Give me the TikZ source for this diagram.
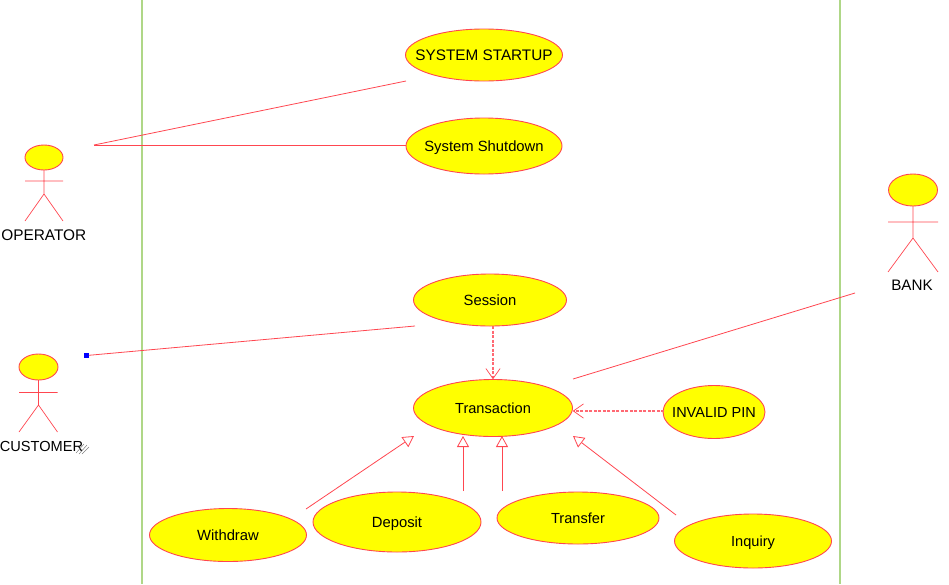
\documentclass[tikz,border=0pt]{standalone}
\usepackage{fontspec}
\setmainfont{Liberation Sans}
\usetikzlibrary{shapes.geometric,arrows.meta}
\definecolor{umlred}{RGB}{255,70,80}
\definecolor{umlpink}{RGB}{255,105,115}
\definecolor{umlgreen}{RGB}{175,215,135}
\definecolor{umlyellow}{RGB}{255,255,0}
\newcommand{\uctext}[2][14.8]{\makebox[0pt]{\smash{\raisebox{-.54em}{\fontsize{#1}{16}\selectfont #2}}}}
\tikzset{
  x=1pt,y=-1pt,
  usecase/.style={ellipse,draw=umlred,fill=umlyellow,line width=0.9pt,inner sep=0pt,outer sep=0pt,text=black},
  actorhead/.style={ellipse,draw=umlred,fill=umlyellow,line width=0.9pt,inner sep=0pt,outer sep=0pt},
  actorlabel/.style={inner sep=0pt,text=black},
  stick/.style={draw=umlred,line width=0.7pt},
  assoc/.style={draw=umlred,line width=0.8pt},
  depend/.style={draw=umlpink,line width=1.1pt,dash pattern=on 3pt off 1.5pt,-{Straight Barb[length=10pt,width=14pt,line width=0.7pt,round=false,color=umlred]}},
  general/.style={draw=umlred,line width=0.8pt,-{Triangle[open,length=11pt,width=12pt,line width=0.8pt]}},
  boundary/.style={draw=umlgreen,line width=1.2pt}
}
\begin{document}
\begin{tikzpicture}
\useasboundingbox (0,0) rectangle (949,584);
% system boundary
\coordinate (bl1) at (142,0); \coordinate (bl2) at (142,584);
\coordinate (br1) at (840,0); \coordinate (br2) at (840,584);
\draw[boundary] (bl1) -- (bl2);
\draw[boundary] (br1) -- (br2);
% use cases
\node[usecase,minimum width=157pt,minimum height=52pt] (startup) at (484,55) {\uctext[15.3]{SYSTEM STARTUP}};
\node[usecase,minimum width=156pt,minimum height=56pt] (shutdown) at (484,146) {\uctext{System Shutdown}};
\node[usecase,minimum width=153pt,minimum height=52pt] (session) at (490,300) {\uctext{Session}};
\node[usecase,minimum width=159pt,minimum height=57pt] (transaction) at (493,408) {\uctext[14.6]{Transaction}};
\node[usecase,minimum width=102pt,minimum height=53pt] (invalid) at (714,412) {\uctext[14.5]{INVALID PIN}};
\node[usecase,minimum width=157pt,minimum height=53pt] (withdraw) at (228,535) {\uctext{Withdraw}};
\node[usecase,minimum width=168pt,minimum height=60pt] (deposit) at (397,522) {\uctext{Deposit}};
\node[usecase,minimum width=162pt,minimum height=52pt] (transfer) at (578,518) {\uctext[14.6]{Transfer}};
\node[usecase,minimum width=157pt,minimum height=54pt] (inquiry) at (753,541) {\uctext[14.6]{Inquiry}};
% operator
\node[actorhead,minimum width=38pt,minimum height=25pt] (ophead) at (44,157.5) {};
\coordinate (ophip) at (44,194);
\coordinate (opla) at (25,181); \coordinate (opra) at (63,181);
\coordinate (opll) at (25,221); \coordinate (oprl) at (63,221);
\draw[stick] (ophead.south) -- (ophip) -- (opll) (ophip) -- (oprl) (opla) -- (opra);
\node[actorlabel] (oplabel) at (43.8,235) {\uctext[15.4]{OPERATOR}};
% customer
\node[actorhead,minimum width=39pt,minimum height=26pt] (cuhead) at (38.5,367) {};
\coordinate (cuhip) at (38.5,405);
\coordinate (cula) at (19,392.5); \coordinate (cura) at (57.5,392.5);
\coordinate (cull) at (19,432); \coordinate (curl) at (57.5,432);
\draw[stick] (cuhead.south) -- (cuhip) -- (cull) (cuhip) -- (curl) (cula) -- (cura);
\node[actorlabel] (culabel) at (41.5,446) {\uctext[14.6]{CUSTOMER}};
% resize hatch beside the customer label
\coordinate (ha1) at (76,453); \coordinate (ha2) at (84,444);
\coordinate (hb1) at (79,454); \coordinate (hb2) at (87,445);
\coordinate (hc1) at (82,454); \coordinate (hc2) at (89,447);
\draw[gray,line width=0.5pt] (ha1) -- (ha2) (hb1) -- (hb2) (hc1) -- (hc2);
% bank
\node[actorhead,minimum width=49pt,minimum height=32pt] (bkhead) at (913,190) {};
\coordinate (bkhip) at (913,238);
\coordinate (bkla) at (888,222); \coordinate (bkra) at (938,222);
\coordinate (bkll) at (888,272); \coordinate (bkrl) at (938,272);
\draw[stick] (bkhead.south) -- (bkhip) -- (bkll) (bkhip) -- (bkrl) (bkla) -- (bkra);
\node[actorlabel] (bklabel) at (912,285) {\uctext[15.2]{BANK}};
% free connector ends
\coordinate (opport) at (94,145);
\coordinate (startupin) at (406,81);
\coordinate (shutin) at (406,145);
\node[fill=blue,inner sep=0pt,minimum size=4.2pt] (handle) at (86.5,355.5) {};
\coordinate (sessin) at (415,326);
\coordinate (trbank) at (573,379);
\coordinate (bankport) at (855,293);
\coordinate (sessout) at (493,326);
\coordinate (trtop) at (493,379);
\coordinate (invout) at (664,411);
\coordinate (trright) at (573,411);
\coordinate (wdout) at (306,509); \coordinate (wdin) at (414,436);
\coordinate (dpout) at (463,491); \coordinate (dpin) at (463,436);
\coordinate (tfout) at (502,491); \coordinate (tfin) at (502,436);
\coordinate (iqout) at (676,515); \coordinate (iqin) at (573,436);
% connectors
\draw[assoc] (opport) -- (startupin);
\draw[assoc] (opport) -- (shutin);
\draw[assoc] (handle) -- (sessin);
\draw[assoc] (trbank) -- (bankport);
\draw[depend] (sessout) -- (trtop);
\draw[depend] (invout) -- (trright);
\draw[general] (wdout) -- (wdin);
\draw[general] (dpout) -- (dpin);
\draw[general] (tfout) -- (tfin);
\draw[general] (iqout) -- (iqin);
\end{tikzpicture}
\end{document}
